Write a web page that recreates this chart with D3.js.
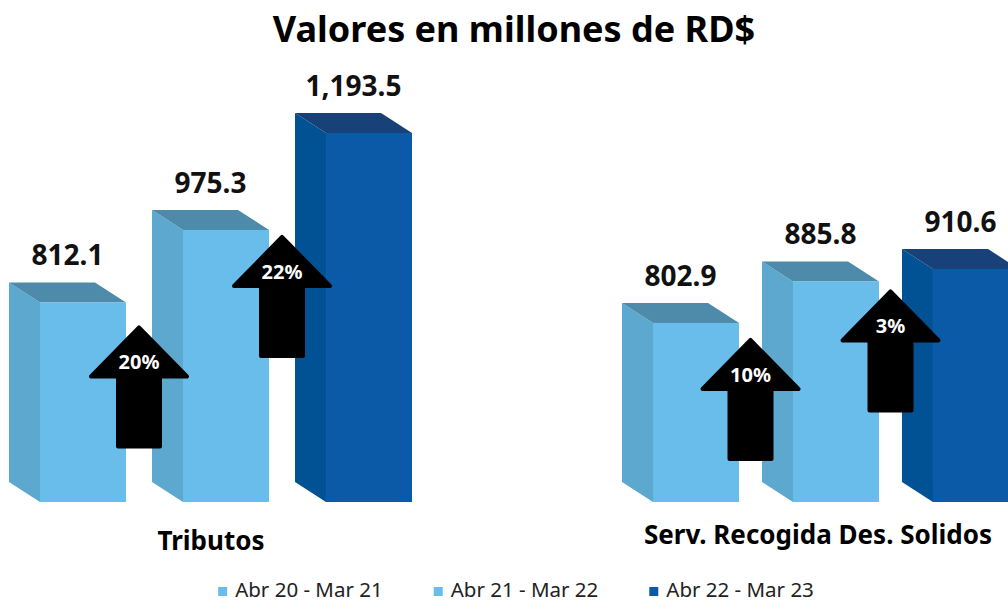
<!DOCTYPE html>
<html>
<head>
<meta charset="utf-8">
<script src="https://cdn.jsdelivr.net/npm/d3@7"></script>
<style>
  body { margin: 0; background: #fff; }
  svg { display: block; font-family: "Noto Sans", "Open Sans", sans-serif; }
</style>
</head>
<body>
<div id="chart"></div>
<script>
// data
var groups = ["Tributos", "Serv. Recogida Des. Solidos"];
var periods = ["Abr 20 - Mar 21", "Abr 21 - Mar 22", "Abr 22 - Mar 23"];
var tributos = [812.1, 975.3, 1193.5];
var recogida = [802.9, 885.8, 910.6];
var growthTributos = ["20%", "22%"];
var growthRecogida = ["10%", "3%"];

var svgWidth = 1008;
var svgHeight = 603;
var baseY = 502;
var depthX = 31, depthY = 20;

// colours per period: front, side, top
var fronts = ["#69bdeb", "#69bdeb", "#0a5aa8"];
var sides = ["#5ca8ce", "#5ca8ce", "#005294"];
var tops = ["#4e8baa", "#4e8baa", "#174178"];

var svg = d3.select("#chart")
  .append("svg")
  .attr("width", svgWidth)
  .attr("height", svgHeight);

// title
svg.append("text")
  .attr("x", 514)
  .attr("y", 42)
  .attr("text-anchor", "middle")
  .attr("font-size", 36)
  .attr("font-weight", "bold")
  .text("Valores en millones de RD$");

// each group gets its own (truncated) value scale, like the original
var layout = [
  { values: tributos, growth: growthTributos, xRange: [9, 412], pad: 0.182,
    domain: [363, 1193.5], yTop: 133, labelX: 211, labelY: 550, arrowOffset: [23, 5] },
  { values: recogida, growth: growthRecogida, xRange: [622, 1019], pad: 0.164,
    domain: [445.6, 910.6], yTop: 269, labelX: 818, labelY: 544, arrowOffset: [15, 8] }
];

var fmt = d3.format(",.1f");

layout.forEach(function(g, gi) {
  var x = d3.scaleBand()
    .domain(periods)
    .range(g.xRange)
    .paddingInner(g.pad)
    .paddingOuter(0);

  var y = d3.scaleLinear()
    .domain(g.domain)
    .range([baseY, g.yTop]);

  var bw = x.bandwidth();
  var group = svg.append("g");

  var bars = group.selectAll(".bar")
    .data(g.values)
    .enter()
    .append("g")
    .attr("class", "bar");

  // side face
  bars.append("path")
    .attr("fill", (d, i) => sides[i])
    .attr("d", function(d, i) {
      var x0 = x(periods[i]), t = y(d);
      return "M" + x0 + "," + (t - depthY) + "L" + (x0 + depthX) + "," + t +
        "L" + (x0 + depthX) + "," + baseY + "L" + x0 + "," + (baseY - depthY) + "Z";
    });

  // top face
  bars.append("path")
    .attr("fill", (d, i) => tops[i])
    .attr("d", function(d, i) {
      var x0 = x(periods[i]), t = y(d);
      return "M" + x0 + "," + (t - depthY) + "L" + (x0 + bw - depthX) + "," + (t - depthY) +
        "L" + (x0 + bw) + "," + t + "L" + (x0 + depthX) + "," + t + "Z";
    });

  // front face
  bars.append("rect")
    .attr("x", (d, i) => x(periods[i]) + depthX)
    .attr("y", d => y(d))
    .attr("width", bw - depthX)
    .attr("height", d => baseY - y(d))
    .attr("fill", (d, i) => fronts[i]);

  // value labels
  bars.append("text")
    .attr("x", (d, i) => x(periods[i]) + bw / 2)
    .attr("y", d => y(d) - depthY - 17)
    .attr("text-anchor", "middle")
    .attr("font-size", 28)
    .attr("font-weight", "bold")
    .attr("fill", "#111")
    .text(d => fmt(d));

  // growth arrows between neighbouring bars
  var arrows = group.selectAll(".arrow")
    .data(g.growth)
    .enter()
    .append("g")
    .attr("class", "arrow")
    .attr("transform", function(d, i) {
      var cx = (x(periods[i]) + bw + x(periods[i + 1])) / 2;
      var tip = y(g.values[i]) + g.arrowOffset[i];
      return "translate(" + cx + "," + tip + ")";
    });

  arrows.append("path")
    .attr("d", "M0,2L48,51L21,51L21,121L-21,121L-21,51L-48,51Z")
    .attr("fill", "#000")
    .attr("stroke", "#000")
    .attr("stroke-width", 4)
    .attr("stroke-linejoin", "round");

  arrows.append("text")
    .attr("x", 0)
    .attr("y", 44)
    .attr("text-anchor", "middle")
    .attr("font-size", 20)
    .attr("font-weight", "bold")
    .attr("fill", "#fff")
    .text(d => d);

  // category label
  svg.append("text")
    .attr("x", g.labelX)
    .attr("y", g.labelY)
    .attr("text-anchor", "middle")
    .attr("font-size", 26)
    .attr("font-weight", "bold")
    .text(groups[gi]);
});

// legend
var legend = svg.append("g");
var legendX = 0;
periods.forEach(function(p, i) {
  var item = legend.append("g").attr("transform", "translate(" + legendX + ",0)");
  item.append("rect")
    .attr("x", 0)
    .attr("y", 587)
    .attr("width", 9)
    .attr("height", 9)
    .attr("fill", fronts[i]);
  var t = item.append("text")
    .attr("x", 17)
    .attr("y", 597)
    .attr("font-size", 20.5)
    .attr("fill", "#222")
    .text(p);
  legendX += 17 + t.node().getComputedTextLength() + 51;
});
var legendW = legendX - 51;
legend.attr("transform", "translate(" + (516 - legendW / 2) + ",0)");
</script>
</body>
</html>
